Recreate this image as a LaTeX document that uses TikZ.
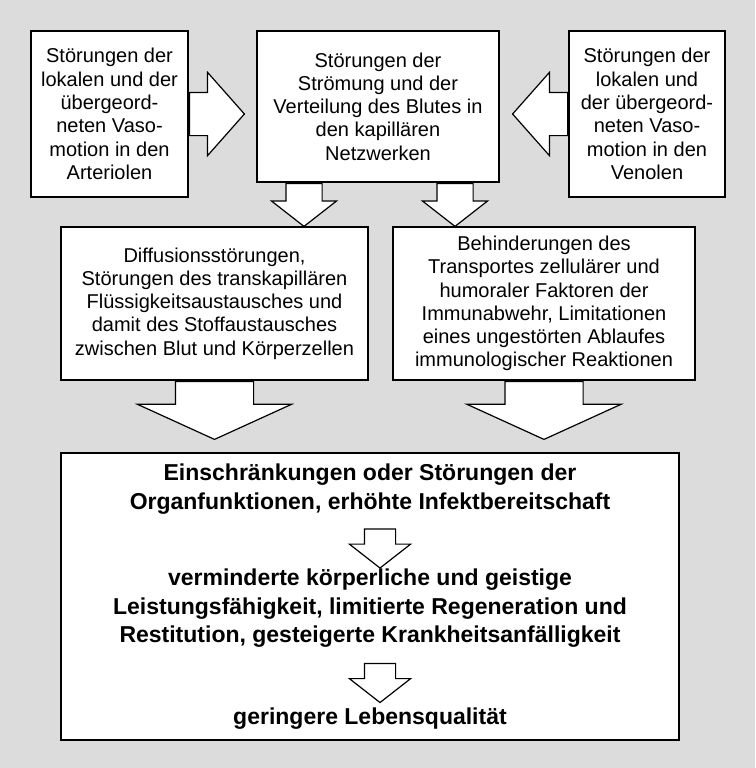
\documentclass[tikz,border=0pt]{standalone}
\usepackage{fontspec}
\setmainfont{Liberation Sans}
\usetikzlibrary{calc,positioning,shapes.arrows}
\definecolor{bggray}{RGB}{220,220,220}

\begin{document}
\begin{tikzpicture}[
    x=1pt, y=-1pt,
    every node/.style={align=center},
    panel/.style={
      rectangle, draw=black, line width=1.6pt, fill=white,
      inner sep=0pt, font=\fontsize{20}{23.3}\selectfont
    },
    result/.style={inner sep=0pt, anchor=north,
      font=\fontsize{23}{28.5}\selectfont\bfseries},
    fatarrow/.style={
      single arrow, draw=black, line width=1.2pt, fill=white,
      inner xsep=0pt, anchor=tail, single arrow head indent=0pt
    },
    sidearrow/.style={fatarrow, minimum height=55pt, inner ysep=21pt,
      single arrow head extend=20pt, single arrow tip angle=97},
    capdrop/.style={fatarrow, minimum height=43pt, inner ysep=17.5pt,
      single arrow head extend=14.5pt, single arrow tip angle=104},
    bigdrop/.style={fatarrow, minimum height=58pt, inner ysep=38.5pt,
      single arrow head extend=38pt, single arrow tip angle=131},
    smalldrop/.style={fatarrow, minimum height=39pt, inner ysep=15pt,
      single arrow head extend=15pt, single arrow tip angle=104}
  ]
    \fill[bggray] (0,0) rectangle (755,768);
    \useasboundingbox (0,0) rectangle (755,768);

    % top row
    \node[panel, minimum width=157pt, minimum height=166pt] (arter) at (109.5,114)
      {Störungen der\\lokalen und der\\übergeord-\\neten Vaso-\\motion in den\\Arteriolen};
    \node[panel, minimum width=242pt, minimum height=151pt] (capnet) at (378,106.5)
      {Störungen der\\Strömung und der\\Verteilung des Blutes in\\den kapillären\\Netzwerken};
    \node[panel, minimum width=156pt, minimum height=166pt] (venol) at (647,114)
      {Störungen der\\lokalen und\\der übergeord-\\neten Vaso-\\motion in den\\Venolen};

    % middle row
    \node[panel, minimum width=307pt, minimum height=153pt] (diffu) at (214.5,303.5)
      {Diffusionsstörungen,\\Störungen des transkapillären\\Flüssigkeitsaustausches und\\damit des Stoffaustausches\\zwischen Blut und Körperzellen};
    \node[panel, minimum width=302pt, minimum height=153pt] (immun) at (544,303.5)
      {Behinderungen des\\Transportes zellulärer und\\humoraler Faktoren der\\Immunabwehr, Limitationen\\eines ungestörten Ablaufes\\immunologischer Reaktionen};

    % bottom box
    \node[panel, minimum width=618pt, minimum height=287pt] (organ) at (370,596.5) {};
    \node[result] (organtxt) at (370,464)
      {Einschränkungen oder Störungen der\\Organfunktionen, erhöhte Infektbereitschaft};
    \node[result] (leist) at (370,569)
      {verminderte körperliche und geistige\\Leistungsfähigkeit, limitierte Regeneration und\\Restitution, gesteigerte Krankheitsanfälligkeit};
    \node[result] (quali) at (370,708) {geringere Lebensqualität};

    % block arrows
    \node[sidearrow] (artin) at (arter.east) {};
    \node[sidearrow, rotate=180] (venin) at (venol.west) {};
    \node[capdrop, rotate=-90] (capl) at ($(capnet.south)+(-74,0)$) {};
    \node[capdrop, rotate=-90] (capr) at ($(capnet.south)+(77,0)$) {};
    \node[bigdrop, rotate=-90] (diffout) at (diffu.south) {};
    \node[bigdrop, rotate=-90] (immout) at (immun.south) {};
    \node[smalldrop, rotate=-90] (step1) at ($(organtxt.south)+(10,14)$) {};
    \node[smalldrop, rotate=-90] (step2) at ($(leist.south)+(10,15)$) {};
  \end{tikzpicture}
\end{document}
